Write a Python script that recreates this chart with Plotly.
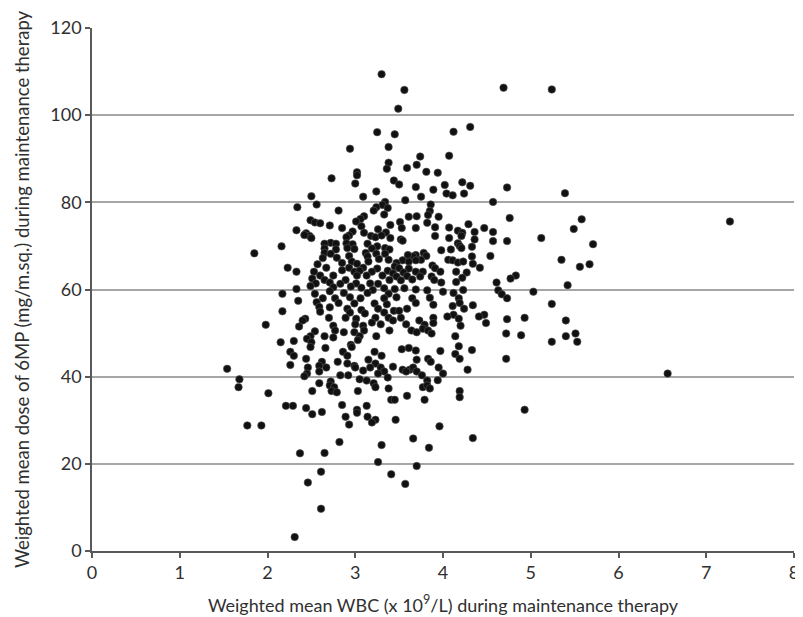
import plotly.graph_objects as go

# Weighted mean WBC (x10^9/L)
wbc = [
3.30,3.56,4.69,5.24,3.49,3.25,3.45,4.31,4.12,2.94,3.38,4.07,3.74,3.38,3.70,3.59,3.36,3.81,3.94,3.02,
3.02,2.73,3.44,3.50,3.00,3.69,3.89,4.02,4.22,4.31,4.73,3.24,5.39,4.04,4.11,4.24,3.75,3.09,2.50,3.57,
4.57,3.34,3.31,2.56,2.34,3.86,3.24,3.37,2.81,3.21,3.33,3.85,3.83,3.70,4.76,5.58,3.10,3.06,3.61,3.95,
3.01,3.51,2.49,2.54,2.60,7.27,3.82,3.40,4.29,4.47,5.49,2.71,3.07,2.85,3.26,3.53,3.69,3.91,4.07,2.33,
2.97,3.10,3.35,4.17,4.22,4.36,4.57,2.44,2.48,2.42,2.93,2.90,3.18,3.23,3.30,3.40,3.52,3.54,3.91,4.07,
4.21,5.12,4.57,4.73,4.36,2.50,2.72,2.65,2.78,2.90,2.97,3.14,2.16,5.71,4.17,4.19,4.33,3.25,3.19,3.34,
3.39,2.91,2.99,2.65,2.78,3.98,4.09,4.21,2.65,2.72,1.85,3.12,3.24,3.34,3.78,3.81,3.69,3.66,3.60,2.93,
3.14,4.33,4.54,5.35,4.06,4.11,2.63,2.79,3.27,3.38,3.54,3.75,3.61,3.69,4.17,4.23,4.34,2.57,2.85,2.96,
3.02,3.15,3.47,5.67,5.56,3.88,4.42,2.23,2.33,2.67,2.93,3.09,3.25,3.45,3.50,3.61,3.91,2.53,2.85,2.99,
3.05,3.19,3.37,3.43,3.55,3.69,3.77,3.97,4.15,4.27,4.83,2.60,2.75,3.02,3.13,3.31,3.47,3.59,3.74,3.87,
2.51,4.77,4.22,2.65,2.89,3.39,3.52,3.65,3.90,2.55,2.71,2.83,3.01,3.17,3.26,3.98,4.15,4.61,5.42,2.17,
2.33,2.49,2.75,2.95,3.07,3.20,3.33,3.45,3.56,3.69,3.82,4.00,4.23,4.63,5.03,4.12,2.71,2.87,3.14,3.38,
2.54,4.67,4.73,2.63,2.77,2.94,3.06,3.33,3.47,3.65,3.85,4.18,2.35,2.56,2.81,2.99,3.22,3.36,3.69,3.89,
4.19,4.34,5.24,4.11,2.59,2.71,2.91,3.07,3.26,3.44,3.59,4.24,2.17,2.60,2.94,3.11,3.33,3.50,4.12,4.47,
4.41,5.40,4.93,4.73,2.43,2.40,2.70,2.89,3.01,3.23,3.38,3.52,3.89,4.05,4.18,3.73,3.43,3.19,4.49,2.36,
2.75,3.00,3.09,3.29,3.58,3.79,3.89,4.20,1.98,3.77,3.83,2.87,2.99,3.10,2.54,2.77,3.39,3.64,3.70,3.87,
4.72,4.89,5.51,5.40,2.49,2.65,3.05,3.24,2.75,2.45,4.14,2.15,2.30,2.50,3.03,5.24,5.53,2.95,2.66,2.49,
2.96,4.18,3.53,3.61,3.69,3.97,4.33,3.22,2.26,2.30,2.86,2.91,4.14,2.44,4.72,3.70,4.19,3.30,3.83,2.80,
3.15,2.62,2.91,2.99,3.23,3.86,2.26,2.59,2.46,2.67,3.00,3.17,3.29,3.43,3.54,3.62,3.66,3.95,4.28,1.54,
2.59,3.09,3.33,3.58,3.70,2.45,2.92,3.26,4.00,6.56,2.42,2.83,3.76,3.37,3.05,1.68,3.82,3.13,2.72,2.59,
3.21,3.94,1.67,2.71,2.76,3.23,3.77,3.82,3.85,3.38,2.73,2.79,2.51,3.03,2.01,4.19,4.19,3.59,3.41,3.45,
3.79,2.85,3.13,2.21,2.29,2.44,2.62,2.51,3.02,3.02,4.93,2.89,3.14,3.23,3.19,3.46,2.93,1.77,1.93,3.96,
4.34,3.66,2.82,3.30,3.84,2.65,2.37,3.26,3.70,3.41,2.61,2.46,3.57,2.61,2.31,
]

# Weighted mean dose of 6MP (mg/m.sq.)
dose = [
109.4,105.8,106.3,105.9,101.5,96.1,95.6,97.3,96.2,92.3,92.7,90.7,90.5,89.1,88.6,87.9,87.7,87.0,86.8,86.9,
86.2,85.5,85.0,84.1,84.3,83.5,82.9,84.0,84.6,83.8,83.4,82.5,82.1,82.0,81.6,82.0,81.3,81.3,81.4,80.5,
80.1,80.1,79.4,79.5,78.9,79.5,78.9,78.7,78.1,78.1,77.2,78.0,77.1,76.8,76.4,76.1,76.8,76.2,76.7,76.7,
75.6,75.5,75.9,75.4,75.2,75.6,75.3,74.8,75.0,74.1,73.9,74.7,74.5,74.1,73.8,74.1,74.1,74.3,74.2,73.6,
73.3,73.0,73.1,73.5,73.0,73.2,73.2,72.9,72.3,72.5,72.4,72.0,72.3,72.0,72.4,71.8,71.5,71.2,72.3,71.8,
72.3,71.8,71.1,71.1,71.5,71.8,70.7,70.5,70.5,70.6,70.4,70.5,69.9,70.4,70.6,70.0,69.8,69.9,69.4,69.5,
69.2,69.5,69.3,69.4,69.2,69.0,69.2,69.5,68.4,68.2,68.3,68.4,68.2,68.2,68.4,67.7,67.9,67.6,67.9,67.7,
67.6,67.6,67.7,66.8,66.8,66.7,67.2,67.3,67.0,66.8,66.7,66.8,66.4,66.7,66.2,66.4,65.9,65.8,66.1,66.4,
65.9,66.4,66.1,65.8,65.2,65.5,65.0,65.0,64.1,65.0,65.0,65.0,64.8,65.3,64.9,64.8,64.9,64.1,64.4,64.1,
64.3,64.1,64.3,63.7,63.9,64.1,64.1,64.1,64.1,63.9,63.2,63.2,63.2,63.2,63.2,63.2,63.0,63.1,63.0,63.0,
62.5,62.5,62.7,62.2,62.2,62.2,62.1,62.3,62.2,61.4,61.6,61.3,61.4,61.4,61.3,61.6,61.7,61.6,61.0,59.0,
60.1,60.8,60.5,60.7,60.4,59.9,60.3,60.1,60.3,60.0,59.8,59.5,59.9,59.8,59.5,59.2,59.6,59.2,59.2,59.0,
59.0,58.9,58.0,58.0,58.0,58.2,58.0,58.0,58.2,58.0,58.1,58.0,57.4,57.1,56.9,56.8,56.8,56.6,56.9,56.5,
56.9,56.4,56.7,56.2,56.0,55.9,55.6,55.3,55.6,55.1,55.6,55.6,55.0,54.9,54.7,54.5,54.7,55.1,54.2,54.2,
53.8,52.9,53.5,53.2,53.3,52.9,53.5,53.5,53.3,53.5,53.5,53.5,53.5,53.8,53.3,52.9,52.9,52.4,52.3,51.5,
51.7,52.0,51.7,52.0,52.0,51.9,52.3,51.7,51.9,51.0,50.6,50.2,50.2,50.6,50.4,50.6,50.6,50.6,50.2,49.9,
49.9,49.5,49.9,49.3,49.3,49.3,49.3,49.3,49.0,48.7,49.3,47.9,48.2,47.9,48.4,48.0,48.0,47.3,46.6,46.8,
46.8,47.0,46.3,46.6,46.0,45.9,46.1,45.7,45.7,44.8,45.7,44.8,45.2,44.1,44.1,43.9,44.1,44.8,44.1,43.4,
43.9,43.4,43.0,42.5,43.0,43.4,42.7,42.5,42.1,42.1,42.1,42.1,42.1,42.3,41.6,41.6,42.1,42.1,41.6,41.8,
41.2,41.4,41.2,41.2,41.2,40.7,40.3,40.7,40.7,40.7,40.1,40.3,40.3,39.8,39.4,39.4,39.1,39.1,38.9,38.5,
38.5,39.2,37.6,38.0,37.6,37.6,37.6,38.0,37.3,37.3,36.7,36.4,36.7,36.7,36.2,36.7,35.3,35.6,34.7,34.7,
34.7,33.5,33.3,33.3,33.3,32.8,31.9,31.4,32.4,31.7,32.4,30.8,30.8,30.1,29.5,30.1,29.0,28.8,28.8,28.6,
25.9,25.8,25.0,24.3,23.7,22.5,22.4,20.4,19.5,17.6,18.2,15.7,15.4,9.7,3.2,
]

x_ticks = [0, 1, 2, 3, 4, 5, 6, 7, 8]
y_ticks = [0, 20, 40, 60, 80, 100, 120]

FONT = "Lato, 'Open Sans', sans-serif"
TXT = "#303030"

fig = go.Figure()
fig.add_trace(go.Scatter(
    x=wbc, y=dose, mode="markers",
    marker=dict(size=7.5, color="#111111", line=dict(width=0.6, color="#555555")),
    showlegend=False,
))

# page has an 8px body margin, so the figure is sized/offset to compensate
fig.update_layout(
    width=795, height=609,
    margin=dict(l=84, r=9, t=20, b=66, autoexpand=False),
    paper_bgcolor="white", plot_bgcolor="white",
    font=dict(family=FONT, size=17, color=TXT),
)
fig.update_xaxes(
    range=[0, 8], tickvals=x_ticks, ticktext=[str(v) for v in x_ticks],
    showgrid=False, zeroline=False, automargin=False,
    showline=True, linecolor="#595959", linewidth=1.5,
    ticks="outside", ticklen=5, tickcolor="#595959", tickwidth=1.5,
    tickfont=dict(size=18, color=TXT),
    title=dict(text="Weighted mean WBC (x 10<sup>9</sup>/L) during maintenance therapy",
               font=dict(size=18, color=TXT), standoff=17),
)
fig.update_yaxes(
    range=[0, 120], tickvals=y_ticks, ticktext=[str(v) for v in y_ticks],
    showgrid=True, gridcolor="#a6a6a6", gridwidth=1.5, zeroline=False, automargin=False,
    showline=True, linecolor="#595959", linewidth=1.5,
    ticks="outside", ticklen=5, tickcolor="#595959", tickwidth=1.5,
    tickfont=dict(size=18, color=TXT),
    title=dict(text="Weighted mean dose of 6MP (mg/m.sq.) during maintenance therapy",
               font=dict(size=18.5, color=TXT), standoff=16),
)

fig.write_html("out.html")
